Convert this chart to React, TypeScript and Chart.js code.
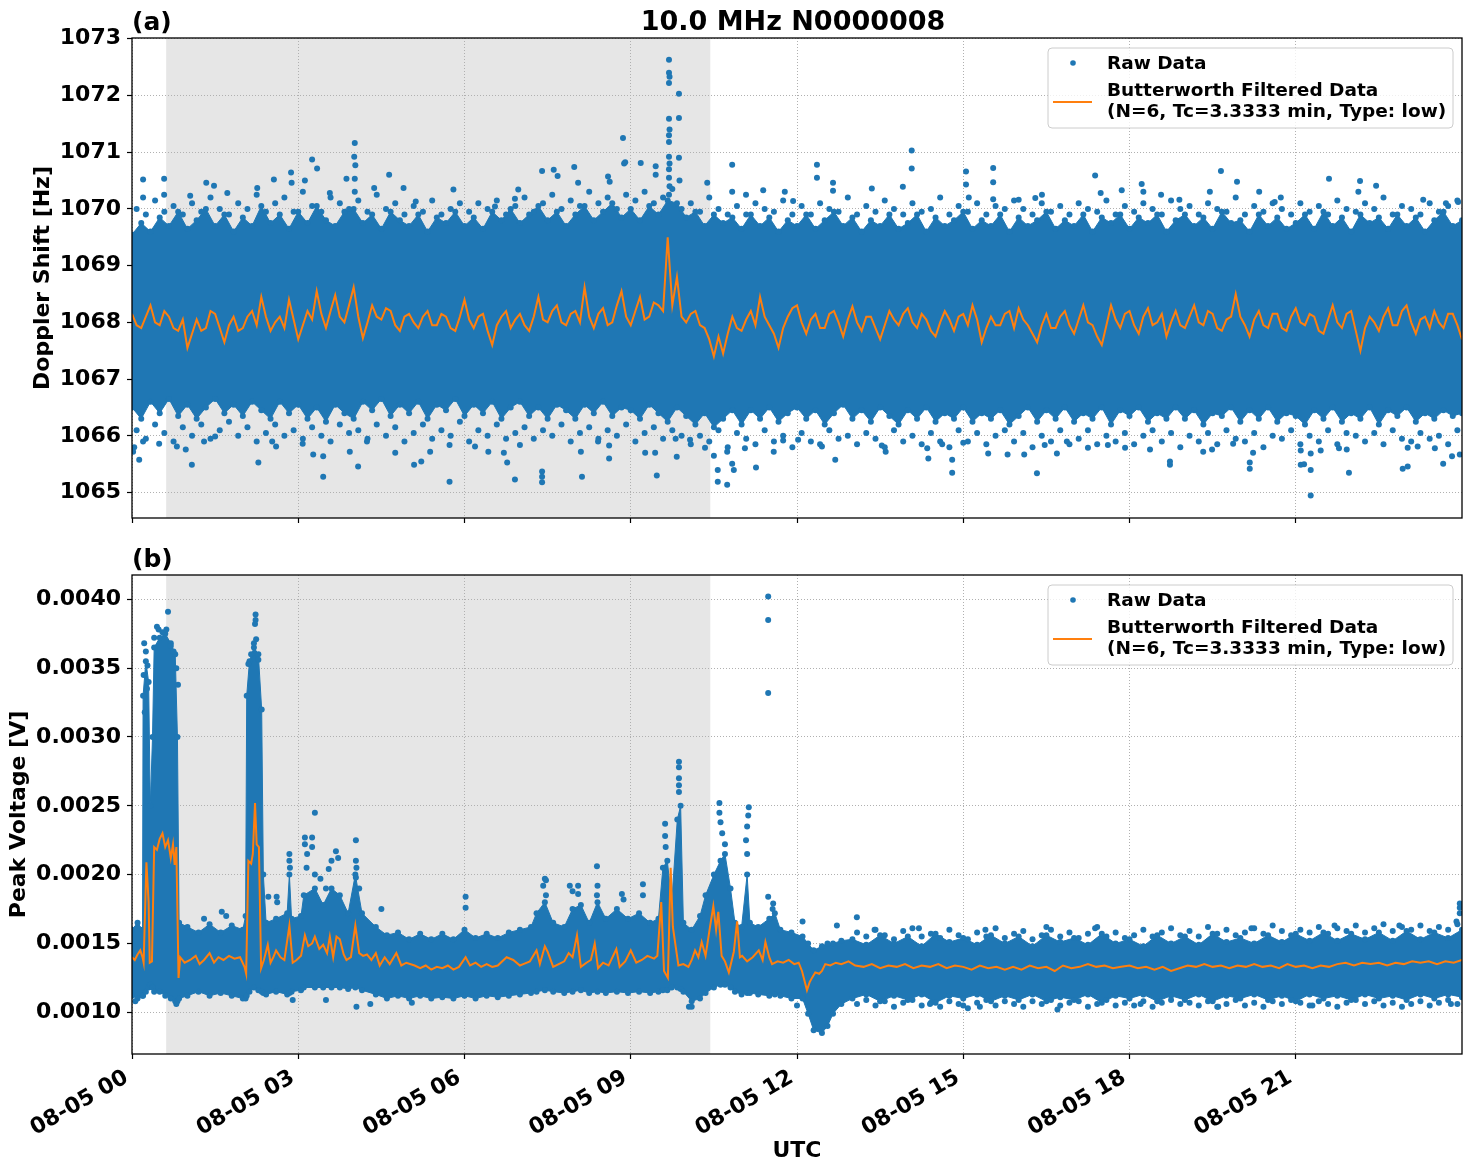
import React, { useEffect, useRef } from 'react';
import { Chart, registerables } from 'chart.js';

Chart.register(...registerables);

const BLUE = '#1f77b4';
const ORANGE = '#ff7f0e';
const FONT = '"DejaVu Sans", "Liberation Sans", sans-serif';

// ---------------- axes / labels ----------------
const xTickHours = [0, 3, 6, 9, 12, 15, 18, 21];
const xTickLabels = ['08-05 00', '08-05 03', '08-05 06', '08-05 09', '08-05 12', '08-05 15', '08-05 18', '08-05 21'];
const dopplerTicks = [1065, 1066, 1067, 1068, 1069, 1070, 1071, 1072, 1073];
const voltTicks = [0.001, 0.0015, 0.002, 0.0025, 0.003, 0.0035, 0.004];
const shadeSpan = [0.617, 10.435];

// ---------------- panel (a): Doppler shift [Hz] ----------------
// Butterworth filtered series, one value every 5 minutes from 00:00 to 24:00 (12 per row = 1 hour)
const dopplerFiltered = [
  1068.15, 1067.95, 1067.9, 1068.1, 1068.3, 1068.0, 1067.95, 1068.2, 1068.1, 1067.9, 1067.85, 1068.05,
  1067.55, 1067.8, 1068.05, 1067.85, 1067.9, 1068.2, 1068.15, 1067.9, 1067.65, 1067.95, 1068.1, 1067.85,
  1067.9, 1068.1, 1068.2, 1067.95, 1068.45, 1068.1, 1067.85, 1068.0, 1068.1, 1067.9, 1068.4, 1068.05,
  1067.7, 1067.95, 1068.2, 1068.05, 1068.55, 1068.15, 1067.9, 1068.2, 1068.48, 1068.1, 1068.0, 1068.3,
  1068.62, 1068.1, 1067.72, 1068.0, 1068.3, 1068.1, 1068.05, 1068.25, 1068.2, 1067.95, 1067.85, 1068.1,
  1068.15, 1068.0, 1067.9, 1068.1, 1068.2, 1067.95, 1067.95, 1068.15, 1068.1, 1067.9, 1067.85, 1068.1,
  1068.4, 1068.05, 1067.9, 1068.1, 1068.15, 1067.85, 1067.6, 1067.95, 1068.1, 1068.2, 1067.9, 1068.05,
  1068.15, 1067.95, 1067.85, 1068.1, 1068.45, 1068.05, 1068.0, 1068.2, 1068.3, 1068.0, 1067.95, 1068.15,
  1068.2, 1068.0, 1068.62, 1068.1, 1067.9, 1068.15, 1068.25, 1067.95, 1068.0, 1068.3, 1068.55, 1068.1,
  1067.95, 1068.2, 1068.45, 1068.05, 1068.1, 1068.35, 1068.3, 1068.2, 1069.5, 1068.3, 1068.8, 1068.1,
  1068.0, 1068.15, 1068.2, 1067.95, 1067.9, 1067.7, 1067.4, 1067.75, 1067.45, 1067.8, 1068.1, 1067.9,
  1067.85, 1068.05, 1068.2, 1067.95, 1068.45, 1068.1, 1067.95, 1067.8, 1067.55, 1067.9, 1068.1, 1068.25,
  1068.3, 1068.0, 1067.8, 1068.05, 1068.15, 1067.9, 1067.9, 1068.15, 1068.2, 1068.0, 1067.75, 1068.05,
  1068.28, 1068.0, 1067.85, 1068.1, 1068.1, 1067.9, 1067.7, 1067.95, 1068.2, 1068.05, 1067.95, 1068.15,
  1068.25, 1068.0, 1067.9, 1068.15, 1068.05, 1067.85, 1067.75, 1068.0, 1068.2, 1068.05, 1067.85, 1068.1,
  1068.15, 1067.95, 1068.3, 1068.05, 1067.65, 1067.9, 1068.1, 1067.95, 1067.95, 1068.15, 1068.2, 1067.9,
  1068.25, 1068.05, 1067.95, 1067.8, 1067.65, 1067.95, 1068.15, 1067.9, 1067.9, 1068.1, 1068.2, 1067.95,
  1067.8, 1068.05, 1068.3, 1068.0, 1067.95, 1067.75, 1067.6, 1067.95, 1068.3, 1068.05, 1067.9, 1068.15,
  1068.2, 1067.95, 1067.8, 1068.1, 1068.25, 1067.95, 1068.0, 1068.15, 1067.75, 1068.0, 1068.2, 1067.95,
  1067.9, 1068.1, 1068.3, 1068.0, 1067.95, 1068.2, 1068.15, 1067.9, 1067.85, 1068.05, 1068.1, 1068.5,
  1068.1, 1067.95, 1067.75, 1068.05, 1068.2, 1067.95, 1067.9, 1068.15, 1068.15, 1067.9, 1067.85, 1068.1,
  1068.25, 1068.0, 1067.95, 1068.15, 1068.1, 1067.85, 1067.8, 1068.05, 1068.3, 1068.0, 1067.9, 1068.15,
  1068.2, 1067.85, 1067.5, 1067.9, 1068.1, 1068.0, 1067.85, 1068.1, 1068.25, 1067.95, 1067.95, 1068.2,
  1068.3, 1068.0, 1067.8, 1068.05, 1068.1, 1067.9, 1068.2, 1068.0, 1067.9, 1068.15, 1068.15, 1067.95,
  1067.7,
];

// Upper / lower edge of the dense raw-data cloud, every 10 minutes (6 per row = 1 hour)
const dopplerUpperEdge = [
  1069.55, 1069.75, 1069.6, 1069.85, 1069.7, 1069.95,
  1069.65, 1069.8, 1070.0, 1069.7, 1069.9, 1069.6,
  1069.85, 1069.7, 1070.05, 1069.75, 1069.9, 1069.65,
  1069.95, 1069.75, 1070.05, 1069.8, 1069.7, 1069.95,
  1070.0, 1069.75, 1069.9, 1069.65, 1069.95, 1069.8,
  1069.7, 1069.9, 1069.6, 1069.85, 1069.75, 1069.95,
  1069.7, 1069.85, 1069.65, 1069.95, 1069.8, 1070.0,
  1069.75, 1069.9, 1070.05, 1069.8, 1069.95, 1069.7,
  1069.9, 1070.05, 1069.8, 1069.95, 1070.1, 1069.85,
  1070.0, 1069.8, 1070.05, 1069.9, 1070.15, 1070.1,
  1069.85, 1069.95, 1069.7, 1069.9, 1069.75, 1069.85,
  1069.65, 1069.9, 1069.7, 1069.85, 1069.6, 1069.8,
  1069.7, 1069.9, 1069.65, 1069.8, 1069.95, 1069.7,
  1069.85, 1069.6, 1069.8, 1069.7, 1069.9, 1069.65,
  1069.75, 1069.9, 1069.6, 1069.85, 1069.7, 1069.8,
  1069.95, 1069.65, 1069.8, 1069.7, 1069.9, 1069.6,
  1069.85, 1069.7, 1069.8, 1069.95, 1069.65, 1069.8,
  1069.7, 1069.9, 1069.6, 1069.85, 1069.75, 1069.9,
  1069.65, 1069.85, 1069.75, 1069.9, 1069.6, 1069.8,
  1069.9, 1069.7, 1069.85, 1069.65, 1069.95, 1069.75,
  1069.8, 1069.6, 1069.9, 1069.7, 1069.85, 1069.65,
  1069.75, 1069.9, 1069.65, 1069.95, 1069.7, 1069.85,
  1069.6, 1069.9, 1069.75, 1069.85, 1069.65, 1069.9,
  1069.7, 1069.85, 1069.6, 1069.8, 1069.95, 1069.7,
  1069.8,
];
const dopplerLowerEdge = [
  1066.5, 1066.3, 1066.6, 1066.4, 1066.65, 1066.35,
  1066.55, 1066.3, 1066.5, 1066.65, 1066.4, 1066.55,
  1066.35, 1066.6, 1066.45, 1066.3, 1066.6, 1066.4,
  1066.55, 1066.3, 1066.5, 1066.25, 1066.55, 1066.4,
  1066.3, 1066.6, 1066.45, 1066.65, 1066.35, 1066.55,
  1066.4, 1066.6, 1066.3, 1066.55, 1066.45, 1066.65,
  1066.35, 1066.55, 1066.4, 1066.6, 1066.3, 1066.5,
  1066.6, 1066.35, 1066.5, 1066.3, 1066.55, 1066.45,
  1066.3, 1066.55, 1066.4, 1066.6, 1066.35, 1066.5,
  1066.45, 1066.3, 1066.55, 1066.4, 1066.25, 1066.5,
  1066.35, 1066.2, 1066.4, 1066.15, 1066.3, 1066.45,
  1066.2, 1066.45, 1066.3, 1066.5, 1066.25, 1066.4,
  1066.5, 1066.3, 1066.45, 1066.2, 1066.4, 1066.55,
  1066.3, 1066.45, 1066.25, 1066.5, 1066.35, 1066.2,
  1066.45, 1066.3, 1066.5, 1066.25, 1066.4, 1066.3,
  1066.5, 1066.25, 1066.4, 1066.3, 1066.45, 1066.2,
  1066.35, 1066.5, 1066.25, 1066.45, 1066.3, 1066.5,
  1066.25, 1066.4, 1066.3, 1066.5, 1066.2, 1066.45,
  1066.35, 1066.5, 1066.25, 1066.4, 1066.3, 1066.5,
  1066.3, 1066.45, 1066.2, 1066.4, 1066.35, 1066.5,
  1066.25, 1066.45, 1066.3, 1066.5, 1066.25, 1066.4,
  1066.35, 1066.2, 1066.45, 1066.3, 1066.5, 1066.25,
  1066.4, 1066.3, 1066.5, 1066.2, 1066.45, 1066.35,
  1066.5, 1066.25, 1066.4, 1066.3, 1066.45, 1066.35,
  1066.4,
];

// Loose raw points just outside the dense cloud, one every 10 minutes (offset by 5 minutes)
const dopplerUpperFringe = [
  1070.0, 1069.9, 1070.15, 1069.95, 1070.05, 1069.9,
  1070.1, 1069.95, 1070.2, 1070.0, 1069.9, 1070.1,
  1070.0, 1070.25, 1069.95, 1070.1, 1070.2, 1069.95,
  1070.3, 1070.05, 1069.95, 1070.2, 1070.1, 1070.0,
  1070.15, 1069.95, 1070.25, 1070.0, 1070.1, 1069.9,
  1070.05, 1069.95, 1070.15, 1069.9, 1070.0, 1070.1,
  1069.95, 1070.1, 1070.0, 1070.15, 1069.9, 1070.05,
  1070.2, 1069.95, 1070.1, 1070.25, 1070.0, 1070.15,
  1070.05, 1070.3, 1070.1, 1070.2, 1070.0, 1070.25,
  1070.15, 1070.3, 1070.1, 1070.2, 1070.35, 1070.0,
  1070.1, 1069.95, 1070.2, 1070.0, 1069.9, 1070.05,
  1069.9, 1070.1, 1070.0, 1069.95, 1070.15, 1069.9,
  1070.05, 1069.9, 1070.1, 1070.0, 1069.95, 1070.2,
  1069.9, 1070.05, 1069.95, 1070.15, 1070.0, 1069.9,
  1070.1, 1069.95, 1070.0, 1070.2, 1069.9, 1070.05,
  1069.95, 1070.1, 1069.9, 1070.05, 1070.0, 1070.15,
  1070.0, 1069.9, 1070.1, 1069.95, 1070.05, 1069.9,
  1070.1, 1070.0, 1069.95, 1070.15, 1069.9, 1070.05,
  1069.95, 1070.1, 1070.0, 1069.9, 1070.15, 1070.0,
  1070.05, 1069.9, 1070.1, 1070.0, 1069.95, 1070.2,
  1069.9, 1070.05, 1069.95, 1070.1, 1070.0, 1069.9,
  1070.1, 1069.95, 1070.05, 1069.9, 1070.15, 1070.0,
  1069.95, 1070.1, 1070.0, 1070.2, 1069.9, 1070.05,
  1070.0, 1069.9, 1070.1, 1069.95, 1070.05, 1070.15,
];
const dopplerLowerFringe = [
  1066.1, 1065.95, 1066.2, 1066.05, 1065.9, 1066.15,
  1066.0, 1066.2, 1065.95, 1066.1, 1066.25, 1066.0,
  1066.15, 1065.9, 1066.05, 1066.2, 1066.0, 1066.1,
  1065.95, 1066.15, 1066.0, 1065.9, 1066.2, 1066.05,
  1066.1, 1065.95, 1066.2, 1066.0, 1066.15, 1065.9,
  1066.05, 1066.2, 1065.95, 1066.1, 1066.0, 1066.25,
  1065.9, 1066.1, 1066.0, 1066.2, 1065.95, 1066.05,
  1066.15, 1065.95, 1066.1, 1066.0, 1066.2, 1065.9,
  1066.05, 1066.15, 1065.95, 1066.1, 1066.0, 1066.2,
  1065.9, 1066.05, 1066.15, 1065.95, 1066.1, 1066.0,
  1065.85, 1066.0, 1065.9, 1066.1, 1065.8, 1066.05,
  1065.95, 1065.85, 1066.1, 1065.9, 1066.0, 1065.8,
  1066.05, 1065.9, 1065.85, 1066.1, 1065.95, 1066.0,
  1065.85, 1066.05, 1065.95, 1065.8, 1066.1, 1065.9,
  1066.0, 1065.85, 1066.05, 1065.9, 1065.8, 1066.1,
  1065.9, 1066.05, 1065.85, 1066.0, 1066.1, 1065.9,
  1066.05, 1065.8, 1066.0, 1065.9, 1066.1, 1065.85,
  1065.95, 1066.1, 1065.85, 1066.0, 1065.9, 1066.05,
  1065.85, 1066.0, 1066.1, 1065.9, 1066.05, 1065.8,
  1066.0, 1065.9, 1066.05, 1065.85, 1066.1, 1065.95,
  1065.9, 1066.05, 1065.8, 1066.0, 1065.95, 1066.1,
  1065.85, 1066.0, 1065.9, 1066.1, 1065.85, 1066.05,
  1066.0, 1065.9, 1066.05, 1065.85, 1066.1, 1065.95,
  1065.9, 1066.05, 1065.95, 1066.0, 1065.85, 1066.1,
];

// Scattered raw points further out: [hour, Hz]
const dopplerHighOutliers: [number, number][] = [
  [0.2, 1070.52], [0.2, 1070.2], [0.58, 1070.53], [0.58, 1070.25], [1.05, 1070.23], [1.34, 1070.46],
  [1.48, 1070.41], [1.72, 1070.28], [2.26, 1070.37], [2.56, 1070.52], [2.87, 1070.64], [2.88, 1070.46],
  [3.25, 1070.87], [3.34, 1070.71], [3.12, 1070.5], [4.02, 1071.16], [4.01, 1070.92], [4.03, 1070.77],
  [4.02, 1070.53], [4.02, 1070.3], [3.87, 1070.53], [4.64, 1070.6], [4.37, 1070.37], [4.9, 1070.37],
  [5.12, 1070.13], [5.8, 1070.34], [3.57, 1070.28],
  [9.69, 1072.63], [9.69, 1072.4], [9.7, 1072.33], [9.69, 1072.22], [9.69, 1071.59], [9.7, 1071.4],
  [9.69, 1071.3], [9.69, 1071.18], [9.69, 1070.92], [9.7, 1070.8], [9.69, 1070.7], [9.69, 1070.55],
  [9.7, 1070.4], [9.69, 1070.25], [9.87, 1072.03], [9.87, 1071.6], [9.87, 1070.9], [9.88, 1070.5],
  [8.86, 1071.25], [8.88, 1070.8], [8.9, 1070.82], [9.18, 1070.81], [9.45, 1070.75], [9.45, 1070.6],
  [7.98, 1070.74], [7.4, 1070.67], [7.61, 1070.69], [7.68, 1070.58], [8.05, 1070.46], [6.97, 1070.34],
  [8.59, 1070.57], [8.62, 1070.48], [10.38, 1070.46], [10.83, 1070.78], [10.83, 1070.3], [12.36, 1070.78],
  [12.36, 1070.55], [12.65, 1070.46], [12.65, 1070.32], [14.07, 1071.03], [14.07, 1070.71], [15.05, 1070.66],
  [15.05, 1070.43], [15.1, 1070.2], [13.91, 1070.39], [13.35, 1070.36], [11.78, 1070.3], [11.39, 1070.33],
  [11.08, 1070.25], [11.93, 1070.14], [6.55, 1070.04], [6.91, 1070.18],
  [15.54, 1070.72], [15.54, 1070.47], [15.54, 1070.17], [17.38, 1070.59], [17.48, 1070.28], [17.86, 1070.33],
  [18.22, 1070.44], [18.25, 1070.3], [18.57, 1070.25], [19.45, 1070.3], [19.65, 1070.67], [19.94, 1070.48],
  [20.34, 1070.3], [20.73, 1070.2], [21.6, 1070.53], [22.16, 1070.49], [22.13, 1070.3], [22.45, 1070.41],
  [23.3, 1070.16], [23.93, 1070.12], [16.3, 1070.19], [16.42, 1070.25], [16.0, 1070.16], [18.9, 1070.16],
  [20.62, 1070.12], [23.71, 1070.1],
];
const dopplerLowOutliers: [number, number][] = [
  [0.13, 1065.58], [0.02, 1065.72], [0.04, 1065.8], [0.2, 1065.9], [0.49, 1065.86], [1.08, 1065.49],
  [0.97, 1065.76], [0.81, 1065.81], [1.3, 1065.9], [1.5, 1065.99], [2.28, 1065.53], [2.53, 1065.9],
  [2.6, 1065.81], [3.08, 1065.86], [3.27, 1065.67], [3.45, 1065.64], [3.45, 1065.28], [3.93, 1065.72],
  [4.08, 1065.46], [4.24, 1065.9], [4.75, 1065.7], [5.09, 1065.49], [5.22, 1065.55], [5.38, 1065.72],
  [5.73, 1065.19], [5.73, 1065.84], [6.19, 1065.81], [6.43, 1065.72],
  [6.71, 1065.7], [6.77, 1065.53], [6.91, 1065.23], [7.0, 1065.84], [7.4, 1065.37], [7.4, 1065.18],
  [7.4, 1065.28], [8.1, 1065.72], [8.12, 1065.28], [8.41, 1065.9], [8.61, 1065.83], [8.61, 1065.6],
  [9.26, 1065.7], [9.44, 1065.7], [9.47, 1065.3], [9.81, 1065.95], [9.83, 1065.63], [10.07, 1065.93],
  [10.34, 1065.79], [10.5, 1065.65], [10.57, 1065.4], [10.57, 1065.19], [10.74, 1065.14], [10.83, 1065.51],
  [10.86, 1065.4], [10.74, 1065.72], [11.06, 1065.78], [11.26, 1065.44], [11.58, 1065.72], [11.75, 1065.92],
  [12.02, 1065.93], [12.45, 1065.81], [12.69, 1065.58], [13.53, 1065.83], [13.6, 1065.72], [14.35, 1065.78],
  [14.37, 1065.6], [14.62, 1065.85], [14.8, 1065.58], [14.8, 1065.35], [15.0, 1065.88], [15.45, 1065.69],
  [15.8, 1065.67], [16.1, 1065.67], [16.33, 1065.34], [16.47, 1065.84], [16.69, 1065.69], [16.87, 1065.9],
  [17.25, 1065.79], [17.61, 1065.84], [17.92, 1065.79], [18.37, 1065.76], [18.73, 1065.49], [18.73, 1065.55],
  [19.33, 1065.72], [19.49, 1065.76], [19.87, 1065.86], [20.17, 1065.53], [20.17, 1065.42], [20.23, 1065.7],
  [21.09, 1065.74], [21.09, 1065.49], [21.15, 1065.5], [21.27, 1065.4], [21.27, 1065.69], [21.27, 1064.95],
  [21.45, 1065.74], [21.78, 1065.78], [21.92, 1065.76], [21.96, 1065.35], [22.93, 1065.42], [23.02, 1065.46],
  [23.02, 1065.79], [23.2, 1065.81], [23.51, 1065.78], [23.66, 1065.51], [23.82, 1065.64], [23.96, 1065.67],
];

// ---------------- panel (b): peak voltage [V] ----------------
// Dense raw-data cloud: [hour, lower edge, upper edge]
const voltEnvelope: [number, number, number][] = [
  [0, 0.00112, 0.0016], [0.1, 0.0011, 0.00165], [0.19, 0.00112, 0.0016], [0.2, 0.00112, 0.0033],
  [0.25, 0.00115, 0.00355], [0.3, 0.00118, 0.0034], [0.33, 0.0012, 0.0025], [0.37, 0.00118, 0.003],
  [0.4, 0.00115, 0.00365], [0.5, 0.00115, 0.00372], [0.6, 0.00112, 0.00375], [0.7, 0.0011, 0.00368],
  [0.78, 0.00108, 0.0036], [0.82, 0.00108, 0.003], [0.85, 0.0011, 0.00165],
  [1.0, 0.00112, 0.00162], [1.2, 0.00115, 0.00158], [1.4, 0.00112, 0.00164], [1.6, 0.00114, 0.00158],
  [1.8, 0.00112, 0.00163], [2.0, 0.0011, 0.0016], [2.05, 0.0011, 0.0017], [2.07, 0.00112, 0.0033],
  [2.12, 0.00115, 0.00355], [2.2, 0.00118, 0.00365], [2.28, 0.00116, 0.0036], [2.34, 0.00115, 0.0032],
  [2.37, 0.00114, 0.002], [2.42, 0.00113, 0.00165], [2.6, 0.00115, 0.00168], [2.8, 0.00113, 0.00172],
  [2.84, 0.00114, 0.002], [2.88, 0.00115, 0.00168], [3.05, 0.00116, 0.0017], [3.1, 0.00118, 0.00185],
  [3.3, 0.00118, 0.0019], [3.45, 0.00118, 0.00178], [3.6, 0.00118, 0.0019], [3.75, 0.00118, 0.00185],
  [3.9, 0.00117, 0.00172], [4.03, 0.00118, 0.002], [4.15, 0.00116, 0.00172], [4.4, 0.00113, 0.00162],
  [4.6, 0.0011, 0.00156], [4.8, 0.00112, 0.00158], [5.0, 0.0011, 0.00153], [5.2, 0.00112, 0.00157],
  [5.4, 0.0011, 0.00153], [5.6, 0.00111, 0.00157], [5.8, 0.0011, 0.00153], [6.0, 0.00112, 0.0016],
  [6.2, 0.0011, 0.00154], [6.4, 0.00112, 0.00157], [6.6, 0.00111, 0.00154], [6.8, 0.00112, 0.00158],
  [7.0, 0.00113, 0.0016], [7.2, 0.00114, 0.00162], [7.3, 0.00115, 0.00172], [7.45, 0.00116, 0.0018],
  [7.6, 0.00115, 0.00165], [7.8, 0.00114, 0.00162], [7.95, 0.00115, 0.00175], [8.1, 0.00116, 0.00178],
  [8.25, 0.00114, 0.00165], [8.4, 0.00115, 0.0018], [8.55, 0.00114, 0.00168], [8.75, 0.00115, 0.00175],
  [8.95, 0.00114, 0.00168], [9.15, 0.00115, 0.00172], [9.35, 0.00114, 0.00165], [9.5, 0.00115, 0.00168],
  [9.58, 0.00116, 0.00205], [9.66, 0.00116, 0.0021], [9.74, 0.00118, 0.0018], [9.84, 0.00118, 0.0024],
  [9.9, 0.00117, 0.0025], [9.95, 0.00115, 0.00165], [10.1, 0.00108, 0.0016], [10.25, 0.0011, 0.0017],
  [10.35, 0.00114, 0.00185], [10.5, 0.00118, 0.002], [10.62, 0.0012, 0.0021], [10.7, 0.0012, 0.00215],
  [10.8, 0.00118, 0.0019], [10.88, 0.00115, 0.00165], [11.0, 0.00113, 0.00162], [11.1, 0.00114, 0.002],
  [11.15, 0.00114, 0.00165], [11.3, 0.00113, 0.00162], [11.5, 0.00112, 0.00168], [11.6, 0.00113, 0.00172],
  [11.7, 0.00112, 0.0016], [11.9, 0.0011, 0.00158], [12.1, 0.0011, 0.00155], [12.2, 0.00099, 0.0015],
  [12.3, 0.00087, 0.00145], [12.45, 0.00085, 0.00148], [12.55, 0.0009, 0.0015], [12.65, 0.00099, 0.0015],
  [12.8, 0.00106, 0.00152],
  [13.0, 0.0011, 0.00153], [13.25, 0.00113, 0.00149], [13.5, 0.00108, 0.00156], [13.75, 0.00112, 0.0015],
  [14.0, 0.00109, 0.00155], [14.25, 0.00113, 0.00148], [14.5, 0.00107, 0.00157], [14.75, 0.00112, 0.00151],
  [15.0, 0.0011, 0.00154], [15.25, 0.00113, 0.00149], [15.5, 0.00108, 0.00156], [15.75, 0.00112, 0.0015],
  [16.0, 0.00109, 0.00155], [16.25, 0.00113, 0.00148], [16.5, 0.00108, 0.00156], [16.75, 0.00111, 0.00151],
  [17.0, 0.00109, 0.00154], [17.25, 0.00113, 0.00149], [17.5, 0.00107, 0.00157], [17.75, 0.00112, 0.0015],
  [18.0, 0.0011, 0.00153], [18.25, 0.00113, 0.00148], [18.5, 0.00108, 0.00156], [18.75, 0.00112, 0.0015],
  [19.0, 0.00109, 0.00155], [19.25, 0.00113, 0.00149], [19.5, 0.00108, 0.00157], [19.75, 0.00112, 0.00151],
  [20.0, 0.0011, 0.00154], [20.25, 0.00113, 0.0015], [20.5, 0.00109, 0.00156], [20.75, 0.00112, 0.00151],
  [21.0, 0.00108, 0.00157], [21.25, 0.00113, 0.00152], [21.5, 0.0011, 0.00158], [21.75, 0.00112, 0.00152],
  [22.0, 0.00109, 0.00157], [22.25, 0.00113, 0.00153], [22.5, 0.0011, 0.00158], [22.75, 0.00112, 0.00152],
  [23.0, 0.00109, 0.00159], [23.25, 0.00113, 0.00153], [23.5, 0.0011, 0.00158], [23.75, 0.00113, 0.00154],
  [24.0, 0.00111, 0.0016],
];

// Loose raw points around the quiet part (13:05 onwards, every 10 minutes)
const voltFringeStart = 13 + 1 / 12;
const voltUpperFringe = [
  0.00158, 0.00155, 0.0016, 0.00156, 0.00153, 0.00159,
  0.00161, 0.00155, 0.00157, 0.00154, 0.0016, 0.00156,
  0.00153, 0.00158, 0.00155, 0.00161, 0.00154, 0.00157,
  0.00159, 0.00153, 0.00156, 0.0016, 0.00155, 0.00158,
  0.00154, 0.00157, 0.00162, 0.00155, 0.00158, 0.00154,
  0.00156, 0.0016, 0.00155, 0.00158, 0.00161, 0.00156,
  0.00159, 0.00155, 0.00162, 0.00157, 0.0016, 0.00156,
  0.00158, 0.00161, 0.00157, 0.00163, 0.00159, 0.00156,
  0.0016, 0.00158, 0.00162, 0.00157, 0.00161, 0.00159,
  0.00163, 0.00158, 0.00161, 0.00164, 0.00159, 0.00162,
  0.0016, 0.00163, 0.00159, 0.00162, 0.0016, 0.00164,
];
const voltLowerFringe = [
  0.00106, 0.00109, 0.00105, 0.00108, 0.00104, 0.00107,
  0.00109, 0.00105, 0.00107, 0.00104, 0.00108, 0.00106,
  0.00103, 0.00107, 0.00109, 0.00105, 0.00108, 0.00106,
  0.00104, 0.00108, 0.00106, 0.00109, 0.00105, 0.00107,
  0.00108, 0.00104, 0.00106, 0.00109, 0.00105, 0.00107,
  0.00105, 0.00108, 0.00104, 0.00107, 0.00109, 0.00106,
  0.00107, 0.00105, 0.00108, 0.00104, 0.00106, 0.00109,
  0.00105, 0.00107, 0.00104, 0.00108, 0.00106, 0.00109,
  0.00107, 0.00105, 0.00108, 0.00106, 0.00104, 0.00107,
  0.00109, 0.00106, 0.00108, 0.00105, 0.00107, 0.00104,
  0.00106, 0.00108, 0.00105, 0.00107, 0.00109, 0.00106,
];

// Butterworth filtered series: [hour, V]
const voltFiltered: [number, number][] = [
  [0, 0.0014], [0.05, 0.00138], [0.1, 0.00142], [0.15, 0.00145], [0.19, 0.0014], [0.21, 0.00136],
  [0.26, 0.00209], [0.3, 0.0018], [0.32, 0.00136], [0.36, 0.00137], [0.4, 0.0022], [0.45, 0.00218],
  [0.5, 0.00226], [0.55, 0.0023], [0.6, 0.0022], [0.65, 0.00225], [0.7, 0.00212], [0.74, 0.00222],
  [0.77, 0.00207], [0.8, 0.0022], [0.84, 0.00125], [0.87, 0.0014], [0.95, 0.00136], [1.05, 0.00138],
  [1.15, 0.00141], [1.22, 0.00135], [1.3, 0.00138], [1.4, 0.00143], [1.48, 0.00136], [1.56, 0.0014],
  [1.65, 0.00138], [1.75, 0.00141], [1.85, 0.00139], [1.95, 0.0014], [2.03, 0.00133], [2.06, 0.00128],
  [2.1, 0.0021], [2.15, 0.00208], [2.18, 0.00215], [2.22, 0.00252], [2.25, 0.00222], [2.29, 0.0022],
  [2.33, 0.00132], [2.38, 0.00138], [2.45, 0.00149], [2.5, 0.00136], [2.55, 0.0014], [2.6, 0.00145],
  [2.68, 0.0014], [2.75, 0.00138], [2.84, 0.00163], [2.9, 0.00136], [2.97, 0.00138], [3.05, 0.00141],
  [3.12, 0.00156], [3.18, 0.00148], [3.25, 0.0015], [3.3, 0.00155], [3.38, 0.00146], [3.45, 0.00149],
  [3.52, 0.00143], [3.57, 0.00155], [3.63, 0.0014], [3.69, 0.00155], [3.75, 0.00153], [3.82, 0.00142],
  [3.87, 0.00138], [3.95, 0.0014], [4.03, 0.00163], [4.1, 0.00143], [4.17, 0.00141], [4.24, 0.00142],
  [4.32, 0.00138], [4.4, 0.00143], [4.47, 0.00134], [4.56, 0.0014], [4.65, 0.00135], [4.77, 0.00143],
  [4.86, 0.00134], [4.95, 0.00136], [5.1, 0.00134], [5.2, 0.00132], [5.3, 0.00134], [5.4, 0.00131],
  [5.5, 0.00133], [5.6, 0.00132], [5.7, 0.00134], [5.8, 0.00131], [5.9, 0.00133], [6.02, 0.0014],
  [6.1, 0.00134], [6.2, 0.00136], [6.3, 0.00133], [6.4, 0.00135], [6.5, 0.00133], [6.6, 0.00134],
  [6.76, 0.0014], [6.88, 0.00138], [7.0, 0.00134], [7.06, 0.00135], [7.18, 0.00137], [7.3, 0.00145],
  [7.36, 0.00135], [7.45, 0.00148], [7.5, 0.00144], [7.6, 0.00133], [7.7, 0.00135], [7.8, 0.00137],
  [7.88, 0.00143], [7.95, 0.0014], [8.03, 0.00156], [8.1, 0.00133], [8.2, 0.00136], [8.28, 0.00138],
  [8.35, 0.0015], [8.41, 0.00132], [8.5, 0.00136], [8.6, 0.00134], [8.74, 0.00146], [8.8, 0.00133],
  [8.9, 0.00137], [9.0, 0.00145], [9.1, 0.00136], [9.2, 0.00138], [9.3, 0.00141], [9.42, 0.00139],
  [9.48, 0.00141], [9.55, 0.0018], [9.6, 0.0013], [9.67, 0.00125], [9.72, 0.00205], [9.76, 0.00162],
  [9.86, 0.00134], [9.95, 0.00135], [10.04, 0.00133], [10.1, 0.00138], [10.16, 0.00145], [10.22, 0.0014],
  [10.28, 0.00151], [10.35, 0.00141], [10.43, 0.00162], [10.49, 0.00177], [10.54, 0.0016], [10.58, 0.00173],
  [10.64, 0.00141], [10.7, 0.00137], [10.77, 0.00129], [10.86, 0.00144], [10.92, 0.00166], [10.97, 0.0014],
  [11.01, 0.00141], [11.1, 0.00137], [11.2, 0.0014], [11.31, 0.00145], [11.38, 0.00138], [11.43, 0.00151],
  [11.5, 0.0014], [11.55, 0.00135], [11.65, 0.00137], [11.75, 0.00136], [11.85, 0.00138], [11.95, 0.00135],
  [12.03, 0.00136], [12.09, 0.0013], [12.18, 0.00116], [12.23, 0.00122], [12.27, 0.00125], [12.33, 0.00129],
  [12.4, 0.00128], [12.45, 0.0013], [12.51, 0.00135], [12.6, 0.00134], [12.7, 0.00136], [12.8, 0.00135],
  [12.93, 0.00137], [13.05, 0.00134], [13.2, 0.00133], [13.35, 0.00135], [13.5, 0.00132], [13.65, 0.00134],
  [13.8, 0.00133], [13.95, 0.00135], [14.1, 0.00132], [14.25, 0.00134], [14.4, 0.00133], [14.55, 0.00135],
  [14.7, 0.00132], [14.85, 0.00134], [15.0, 0.00133], [15.15, 0.00131], [15.3, 0.00134], [15.45, 0.00132],
  [15.6, 0.00133], [15.75, 0.00131], [15.9, 0.00133], [16.05, 0.00131], [16.2, 0.00134], [16.35, 0.00132],
  [16.5, 0.00133], [16.65, 0.0013], [16.8, 0.00134], [16.95, 0.00132], [17.1, 0.00133], [17.25, 0.00135],
  [17.4, 0.00133], [17.55, 0.00134], [17.7, 0.00132], [17.85, 0.00133], [18.0, 0.00134], [18.15, 0.00132],
  [18.3, 0.00133], [18.45, 0.00131], [18.6, 0.00133], [18.75, 0.0013], [18.9, 0.00132], [19.05, 0.00134],
  [19.2, 0.00133], [19.35, 0.00135], [19.5, 0.00133], [19.65, 0.00134], [19.8, 0.00132], [19.95, 0.00134],
  [20.1, 0.00133], [20.25, 0.00135], [20.4, 0.00133], [20.55, 0.00134], [20.7, 0.00132], [20.85, 0.00135],
  [21.0, 0.00133], [21.15, 0.00134], [21.3, 0.00132], [21.45, 0.00134], [21.6, 0.00133], [21.75, 0.00135],
  [21.9, 0.00136], [22.05, 0.00134], [22.2, 0.00136], [22.35, 0.00135], [22.5, 0.00136], [22.65, 0.00134],
  [22.8, 0.00136], [22.95, 0.00135], [23.1, 0.00137], [23.25, 0.00136], [23.4, 0.00137], [23.55, 0.00135],
  [23.7, 0.00137], [23.85, 0.00136], [24.0, 0.00138],
];

// Scattered raw points further out: [hour, V]
const voltHighOutliers: [number, number][] = [
  [0.22, 0.00368], [0.25, 0.00362], [0.28, 0.00352], [0.21, 0.00345], [0.27, 0.00335], [0.23, 0.00318],
  [0.45, 0.0038], [0.48, 0.00378], [0.55, 0.00376], [0.65, 0.00391], [0.62, 0.00378], [0.7, 0.00366],
  [0.75, 0.00362], [0.8, 0.0035], [0.83, 0.00338], [0.4, 0.00372],
  [2.23, 0.00389], [2.23, 0.00385], [2.22, 0.00382], [2.24, 0.00371], [2.2, 0.00368], [2.1, 0.00353],
  [2.28, 0.00356], [2.15, 0.0036],
  [3.3, 0.00245], [2.84, 0.00215], [2.84, 0.0021], [2.85, 0.00205], [3.12, 0.00227], [3.12, 0.00222],
  [3.16, 0.00215], [3.25, 0.00227], [3.25, 0.0022], [3.15, 0.00205], [3.3, 0.002], [3.4, 0.00197],
  [3.55, 0.00204], [3.6, 0.0021], [3.68, 0.00217], [3.72, 0.00212], [3.5, 0.0019], [4.04, 0.00225],
  [4.04, 0.0021], [4.05, 0.00205], [4.04, 0.00198], [4.1, 0.0019], [2.46, 0.00184], [2.61, 0.00184],
  [2.62, 0.0018], [4.5, 0.00175], [1.62, 0.00173], [1.7, 0.0017], [1.3, 0.00168], [6.02, 0.00184],
  [6.02, 0.00176],
  [7.45, 0.00197], [7.47, 0.00196], [7.42, 0.00192], [7.47, 0.00185], [7.9, 0.00192], [7.95, 0.00188],
  [8.05, 0.00192], [8.05, 0.00186], [8.39, 0.00206], [8.4, 0.00192], [8.39, 0.00185], [8.84, 0.00186],
  [8.87, 0.00182], [9.22, 0.00193], [9.22, 0.00185], [9.62, 0.00237], [9.62, 0.00228], [9.63, 0.0022],
  [9.87, 0.00282], [9.87, 0.00278], [9.87, 0.0027], [9.87, 0.00265], [9.87, 0.0026], [10.6, 0.00252],
  [10.6, 0.00245], [10.62, 0.00238], [10.65, 0.0023], [10.7, 0.00222], [11.13, 0.00249], [11.12, 0.00243],
  [11.1, 0.00235], [11.08, 0.00225], [11.1, 0.00215], [11.48, 0.00402], [11.48, 0.00385], [11.48, 0.00332],
  [11.48, 0.00184], [11.57, 0.00179], [11.56, 0.00175], [12.1, 0.00166], [12.72, 0.00163], [13.08, 0.00169],
  [13.4, 0.0016], [14.2, 0.00161], [15.4, 0.0016], [16.5, 0.00162], [17.38, 0.00161], [20.2, 0.00161],
  [21.7, 0.00163], [22.87, 0.00163], [23.96, 0.00179], [23.96, 0.00176], [23.96, 0.00172], [23.9, 0.00166],
];
const voltLowOutliers: [number, number][] = [
  [0.06, 0.00108], [0.8, 0.00106], [2.9, 0.00109], [3.5, 0.00109], [4.05, 0.00104], [4.3, 0.00106],
  [5.05, 0.00107], [10.05, 0.00104], [10.1, 0.00104], [12.0, 0.00105], [15.0, 0.00105], [15.3, 0.00104],
  [16.7, 0.00102], [19.6, 0.00104], [21.3, 0.00105], [18.2, 0.00106], [23.8, 0.00106], [14.4, 0.00106],
];

// ---------------- helpers ----------------
type P = { x: number; y: number };
const evenHours = (arr: number[]): P[] => arr.map((v, i) => ({ x: (i * 24) / (arr.length - 1), y: v }));
const midHours = (arr: number[]): P[] => arr.map((v, i) => ({ x: ((i + 0.5) * 24) / arr.length, y: v }));
const stepped = (start: number, step: number, arr: number[]): P[] => arr.map((v, i) => ({ x: start + i * step, y: v }));
const pairs = (arr: [number, number][]): P[] => arr.map(([x, y]) => ({ x, y }));

function text(ctx: CanvasRenderingContext2D, s: string, x: number, y: number, size: number, align: CanvasTextAlign, rot = 0) {
  ctx.save();
  ctx.translate(x, y);
  if (rot) ctx.rotate(rot);
  ctx.font = `bold ${size}px ${FONT}`;
  ctx.fillStyle = '#000';
  ctx.textAlign = align;
  ctx.textBaseline = 'alphabetic';
  ctx.fillText(s, 0, 0);
  ctx.restore();
}

function drawLegend(ctx: CanvasRenderingContext2D, top: number) {
  const x0 = 1048, w = 405, y0 = top + 10, h = 80, r = 4;
  ctx.save();
  ctx.beginPath();
  ctx.moveTo(x0 + r, y0);
  ctx.lineTo(x0 + w - r, y0);
  ctx.arcTo(x0 + w, y0, x0 + w, y0 + r, r);
  ctx.lineTo(x0 + w, y0 + h - r);
  ctx.arcTo(x0 + w, y0 + h, x0 + w - r, y0 + h, r);
  ctx.lineTo(x0 + r, y0 + h);
  ctx.arcTo(x0, y0 + h, x0, y0 + h - r, r);
  ctx.lineTo(x0, y0 + r);
  ctx.arcTo(x0, y0, x0 + r, y0, r);
  ctx.closePath();
  ctx.fillStyle = 'rgba(255,255,255,0.8)';
  ctx.fill();
  ctx.strokeStyle = '#cccccc';
  ctx.lineWidth = 1;
  ctx.stroke();
  ctx.beginPath();
  ctx.arc(1073, top + 25, 2.8, 0, Math.PI * 2);
  ctx.fillStyle = BLUE;
  ctx.fill();
  ctx.beginPath();
  ctx.moveTo(1053, top + 64);
  ctx.lineTo(1092, top + 64);
  ctx.strokeStyle = ORANGE;
  ctx.lineWidth = 2;
  ctx.stroke();
  ctx.restore();
  text(ctx, 'Raw Data', 1107, top + 31, 18.5, 'left');
  text(ctx, 'Butterworth Filtered Data', 1107, top + 58, 18.5, 'left');
  text(ctx, '(N=6, Tc=3.3333 min, Type: low)', 1107, top + 79, 18.5, 'left');
}

type DecorCfg = { panel: string; title?: string; ylabel: string; ylabelX: number; xLabels: boolean };

function decorPlugin(d: DecorCfg) {
  return {
    id: 'decor',
    beforeDraw(chart: any) {
      const { ctx, chartArea: a, scales } = chart;
      const x0 = scales.x.getPixelForValue(shadeSpan[0]);
      const x1 = scales.x.getPixelForValue(shadeSpan[1]);
      ctx.save();
      ctx.fillStyle = '#e6e6e6';
      ctx.fillRect(x0, a.top, x1 - x0, a.bottom - a.top);
      ctx.restore();
    },
    afterDraw(chart: any) {
      const { ctx, chartArea: a, scales } = chart;
      ctx.save();
      ctx.strokeStyle = '#000';
      ctx.lineWidth = 1.3;
      ctx.strokeRect(a.left, a.top, a.right - a.left, a.bottom - a.top);
      ctx.restore();
      drawLegend(ctx, a.top);
      text(ctx, d.panel, a.left, a.top - 8, 25, 'left');
      if (d.title) text(ctx, d.title, 793, a.top - 8, 27, 'center');
      text(ctx, d.ylabel, d.ylabelX, (a.top + a.bottom) / 2, 22, 'center', -Math.PI / 2);
      if (d.xLabels) {
        xTickHours.forEach((hr, i) => {
          const px = scales.x.getPixelForValue(hr);
          text(ctx, xTickLabels[i], px - 2.6, a.bottom + 27, 22, 'right', -Math.PI / 6);
        });
        text(ctx, 'UTC', (a.left + a.right) / 2, a.bottom + 103, 22, 'center');
      }
    },
  };
}

function buildConfig(opts: {
  lo: P[];
  hi: P[];
  loose: P[];
  filt: P[];
  yMin: number;
  yMax: number;
  yTicks: number[];
  fmt: (v: number) => string;
  padTop: number;
  xAxisHeight: number;
  decor: DecorCfg;
}): any {
  const pt = { pointRadius: 3, pointBorderWidth: 0, pointBackgroundColor: BLUE, pointHoverRadius: 3, clip: 0 };
  const grid = { color: '#b0b0b0', lineWidth: 1, drawTicks: true, tickLength: 5, tickColor: '#000', tickWidth: 1.2 };
  return {
    type: 'line',
    data: {
      datasets: [
        { data: opts.lo, borderColor: BLUE, backgroundColor: BLUE, borderWidth: 1, fill: false, order: 2, ...pt },
        { data: opts.hi, borderColor: BLUE, backgroundColor: BLUE, borderWidth: 1, fill: '-1', order: 2, ...pt },
        { data: opts.loose, showLine: false, borderColor: BLUE, backgroundColor: BLUE, order: 1, ...pt },
        { data: opts.filt, borderColor: ORANGE, backgroundColor: ORANGE, borderWidth: 2, pointRadius: 0, fill: false, order: 0, clip: 0 },
      ],
    },
    options: {
      responsive: false,
      maintainAspectRatio: false,
      animation: false,
      devicePixelRatio: 1,
      events: [],
      elements: { line: { tension: 0 } },
      layout: { padding: { left: 0, right: 10, top: opts.padTop, bottom: 0 } },
      plugins: { legend: { display: false }, tooltip: { enabled: false }, title: { display: false } },
      scales: {
        x: {
          type: 'linear',
          min: 0,
          max: 24,
          afterBuildTicks: (s: any) => { s.ticks = xTickHours.map((v) => ({ value: v })); },
          afterFit: (s: any) => { s.height = opts.xAxisHeight; },
          ticks: { display: false },
          grid,
          border: { display: false, dash: [1, 2] },
        },
        y: {
          type: 'linear',
          min: opts.yMin,
          max: opts.yMax,
          afterBuildTicks: (s: any) => { s.ticks = opts.yTicks.map((v) => ({ value: v })); },
          afterFit: (s: any) => { s.width = 132; },
          ticks: {
            autoSkip: false,
            padding: 6,
            color: '#000',
            font: { family: FONT, size: 22, weight: 'bold' },
            callback: (v: any) => opts.fmt(Number(v)),
          },
          grid,
          border: { display: false, dash: [1, 2] },
        },
      },
    },
    plugins: [decorPlugin(opts.decor)],
  };
}

export default function App() {
  const topRef = useRef<HTMLCanvasElement>(null);
  const botRef = useRef<HTMLCanvasElement>(null);

  useEffect(() => {
    const top = new Chart(
      topRef.current as HTMLCanvasElement,
      buildConfig({
        lo: evenHours(dopplerLowerEdge),
        hi: evenHours(dopplerUpperEdge),
        loose: [
          ...midHours(dopplerUpperFringe),
          ...midHours(dopplerLowerFringe),
          ...pairs(dopplerHighOutliers),
          ...pairs(dopplerLowOutliers),
        ],
        filt: evenHours(dopplerFiltered),
        yMin: 1064.552,
        yMax: 1073.012,
        yTicks: dopplerTicks,
        fmt: (v) => String(Math.round(v)),
        padTop: 38,
        xAxisHeight: 27,
        decor: { panel: '(a)', title: '10.0 MHz N0000008', ylabel: 'Doppler Shift [Hz]', ylabelX: 49, xLabels: false },
      })
    );
    const bottom = new Chart(
      botRef.current as HTMLCanvasElement,
      buildConfig({
        lo: voltEnvelope.map(([t, lo]) => ({ x: t, y: lo })),
        hi: voltEnvelope.map(([t, , hi]) => ({ x: t, y: hi })),
        loose: [
          ...stepped(voltFringeStart, 1 / 6, voltUpperFringe),
          ...stepped(voltFringeStart, 1 / 6, voltLowerFringe),
          ...pairs(voltHighOutliers),
          ...pairs(voltLowOutliers),
        ],
        filt: pairs(voltFiltered),
        yMin: 0.000697,
        yMax: 0.0041765,
        yTicks: voltTicks,
        fmt: (v) => v.toFixed(4),
        padTop: 30,
        xAxisHeight: 118,
        decor: { panel: '(b)', ylabel: 'Peak Voltage [V]', ylabelX: 25, xLabels: true },
      })
    );
    return () => {
      top.destroy();
      bottom.destroy();
    };
  }, []);

  return (
    <div style={{ position: 'absolute', left: 0, top: 0, width: 1472, height: 1172, background: '#fff' }}>
      <canvas ref={topRef} width={1472} height={545} style={{ position: 'absolute', left: 0, top: 0, width: 1472, height: 545 }} />
      <canvas ref={botRef} width={1472} height={627} style={{ position: 'absolute', left: 0, top: 545, width: 1472, height: 627 }} />
    </div>
  );
}
